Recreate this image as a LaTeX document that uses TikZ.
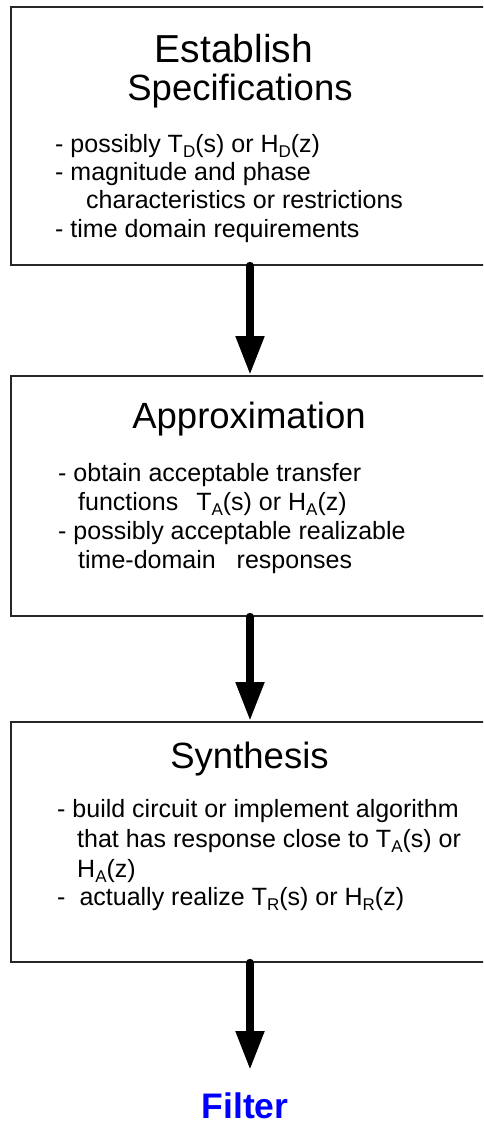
\documentclass[tikz,border=0pt]{standalone}
\usepackage{fontspec}
\setmainfont{Liberation Sans}
\usetikzlibrary{arrows.meta}
\newcommand\sbs[1]{\raisebox{-0.22em}{\fontsize{17pt}{17pt}\selectfont #1}}
\definecolor{filterblue}{RGB}{0,0,255}
\tikzset{
  stagebox/.style={draw=black!85, line width=1.8pt, rectangle, anchor=north west, minimum width=500pt, inner sep=0pt},
  titletext/.style={anchor=base, inner sep=0pt, font=\fontsize{36.5pt}{40pt}\selectfont},
  bodytext/.style={anchor=base west, inner sep=0pt, font=\fontsize{25pt}{29pt}\selectfont},
  flowarrow/.style={line width=8pt, line cap=round, -{Triangle[width=27pt,length=39pt]}},
}
\begin{document}
\begin{tikzpicture}[x=1pt,y=1pt]
\useasboundingbox (0,0) rectangle (483,-1124);
\clip (0,0) rectangle (483,-1124);
% boxes
\node[stagebox, minimum height=258pt] (b1) at (10,-6) {};
\node[stagebox, minimum height=240pt] (b2) at (10,-375) {};
\node[stagebox, minimum height=240pt] (b3) at (10,-721) {};
\coordinate (ax) at (250,0);
% box 1
\node[titletext, font=\fontsize{39pt}{42pt}\selectfont] (t1a) at (234,-63) {Establish};
\node[titletext] (t1b) at (240,-100) {Specifications};
\node[bodytext] (l11) at (55,-152) {- possibly T\sbs{D}(s) or H\sbs{D}(z)};
\node[bodytext] (l12) at (55,-180) {- magnitude and phase};
\node[bodytext] (l13) at (86,-208) {characteristics or restrictions};
\node[bodytext] (l14) at (55,-237) {- time domain requirements};
% box 2
\node[titletext] (t2) at (249,-428) {Approximation};
\node[bodytext] (l21) at (58,-481) {- obtain acceptable transfer};
\node[bodytext] (l22) at (78,-510) {functions\hspace{18pt}T\sbs{A}(s) or H\sbs{A}(z)};
\node[bodytext] (l23) at (58,-539) {- possibly acceptable realizable};
\node[bodytext] (l24) at (78,-568) {time-domain\hspace{21pt}responses};
% box 3
\node[titletext] (t3) at (249.5,-768) {Synthesis};
\node[bodytext] (l31) at (57,-817) {- build circuit or implement algorithm};
\node[bodytext] (l32) at (77,-847) {that has response close to T\sbs{A}(s) or};
\node[bodytext] (l33) at (77,-877) {H\sbs{A}(z)};
\node[bodytext] (l34) at (57,-905) {-\hspace{14pt}actually realize T\sbs{R}(s) or H\sbs{R}(z)};
% output
\node[anchor=base, inner sep=0pt, text=filterblue, font=\fontsize{35.5pt}{38pt}\selectfont\bfseries] (out) at (245,-1118) {Filter};
\coordinate (tip3) at (250,-1070);
% arrows
\draw[flowarrow] (b1.south -| ax) -- (b2.north -| ax);
\draw[flowarrow] (b2.south -| ax) -- (b3.north -| ax);
\draw[flowarrow] (b3.south -| ax) -- (tip3);
\end{tikzpicture}
\end{document}
